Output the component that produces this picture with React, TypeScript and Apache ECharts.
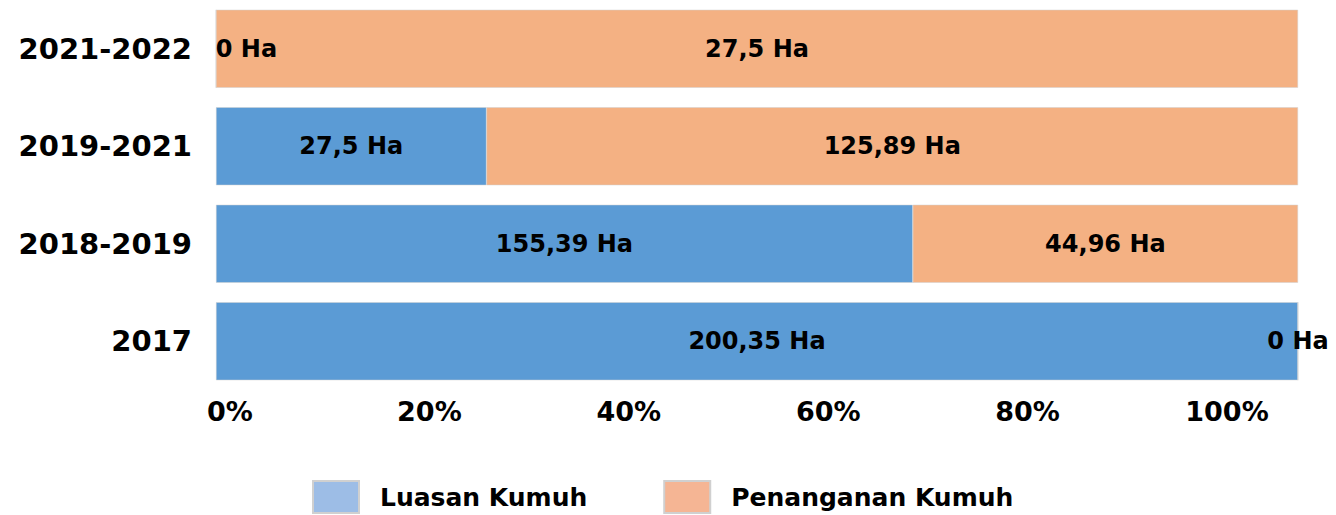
import React, { useEffect, useRef } from "react";
import * as echarts from "echarts";

const categories = ["2017", "2018-2019", "2019-2021", "2021-2022"];
const luasanHa = [200.35, 155.39, 27.5, 0];
const penangananHa = [0, 44.96, 125.89, 27.5];
// bar lengths (share of the full bar, %) as drawn in the picture
const luasanShare = [100, 64.4, 25, 0];
const penangananShare = [0, 35.6, 75, 100];
const seriesNames = ["Luasan Kumuh", "Penanganan Kumuh"];

const FONT = "DejaVu Sans";
const BLUE = "#5b9bd5";
const ORANGE = "#f4b183";

const fmtHa = (v: number) => String(v).replace(".", ",") + " Ha";

export default function App() {
  const ref = useRef<HTMLDivElement>(null);
  useEffect(() => {
    document.body.style.margin = "0";
    const chart = echarts.init(ref.current!, null, { renderer: "svg" });
    const labelBase = {
      show: true,
      color: "#000",
      fontFamily: FONT,
      fontWeight: "bold" as const,
      fontSize: 24,
    };
    const luasanData = luasanShare.map((v) => ({
      value: v,
      label:
        v === 0
          ? { ...labelBase, position: "insideLeft", distance: 0 }
          : { ...labelBase, position: "inside" },
    }));
    const penangananData = penangananShare.map((v) => ({
      value: v,
      label: { ...labelBase, position: "inside" },
    }));
    chart.setOption({
      animation: false,
      grid: [
        { left: 216, right: 38, top: 0, height: 390 },
        { left: 230, right: 109, top: 0, height: 392 },
      ],
      xAxis: [
        { type: "value", gridIndex: 0, min: 0, max: 100, show: false },
        {
          type: "value",
          gridIndex: 1,
          min: 0,
          max: 100,
          interval: 20,
          axisLine: { show: false },
          axisTick: { show: false },
          splitLine: { show: false },
          axisLabel: {
            formatter: "{value}%",
            margin: 6,
            color: "#000",
            fontFamily: FONT,
            fontWeight: "bold",
            fontSize: 27,
          },
        },
      ],
      yAxis: [
        {
          type: "category",
          gridIndex: 0,
          data: categories,
          axisLine: { show: false },
          axisTick: { show: false },
          axisLabel: {
            margin: 24,
            color: "#000",
            fontFamily: FONT,
            fontWeight: "bold",
            fontSize: 29,
          },
        },
        { type: "category", gridIndex: 1, data: categories, show: false },
      ],
      legend: {
        left: 307,
        top: 475,
        icon: "rect",
        itemWidth: 46,
        itemHeight: 32,
        itemGap: 76,
        textStyle: {
          color: "#000",
          fontFamily: FONT,
          fontWeight: "bold",
          fontSize: 25,
          padding: [0, 0, 0, 16],
        },
        data: [
          { name: seriesNames[0], itemStyle: { color: "#9dbde6" } },
          { name: seriesNames[1], itemStyle: { color: "#f5b594" } },
        ],
      },
      series: [
        {
          name: seriesNames[0],
          type: "bar",
          stack: "total",
          xAxisIndex: 0,
          yAxisIndex: 0,
          barWidth: 78,
          itemStyle: { color: BLUE, borderColor: "#d0d0d0", borderWidth: 0.5 },
          data: luasanData.map((d) => ({
            ...d,
            label: { ...d.label, formatter: (p: any) => fmtHa(luasanHa[p.dataIndex]) },
          })),
        },
        {
          name: seriesNames[1],
          type: "bar",
          stack: "total",
          xAxisIndex: 0,
          yAxisIndex: 0,
          barWidth: 78,
          itemStyle: { color: ORANGE, borderColor: "#d0d0d0", borderWidth: 0.5 },
          data: penangananData.map((d) => ({
            ...d,
            label: { ...d.label, formatter: (p: any) => fmtHa(penangananHa[p.dataIndex]) },
          })),
        },
      ],
    });
    return () => chart.dispose();
  }, []);
  return <div ref={ref} style={{ width: 1336, height: 515 }} />;
}
